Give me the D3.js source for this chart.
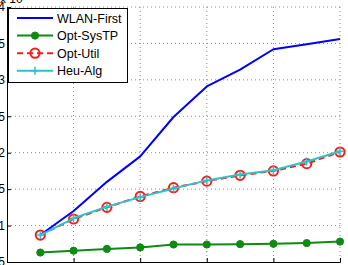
<!DOCTYPE html>
<html>
<head>
<meta charset="utf-8">
<script src="https://cdn.jsdelivr.net/npm/d3@7"></script>
<style>
	html, body { margin: 0; padding: 0; background: #fff; }
	svg { display: block; font-family: "Liberation Sans", Arial, sans-serif; }
</style>
</head>
<body>
<div id="chart"></div>
<script>
(function(){

// x positions (users / index), 1..10
var xVals = [1, 2, 3, 4, 5, 6, 7, 8, 9, 10];

var wlanFirst = [0.87, 1.20, 1.60, 1.95, 2.49, 2.91, 3.14, 3.42, 3.49, 3.56];
var optSysTP  = [0.63, 0.655, 0.68, 0.70, 0.74, 0.74, 0.745, 0.75, 0.76, 0.78];
var optUtil   = [0.87, 1.09, 1.25, 1.40, 1.52, 1.61, 1.69, 1.75, 1.85, 2.01];
var heuAlg    = [0.87, 1.10, 1.26, 1.39, 1.51, 1.62, 1.70, 1.76, 1.88, 2.02];

var yTicks = [0.5, 1, 1.5, 2, 2.5, 3, 3.5, 4];
var xTicks = [0, 2, 4, 6, 8, 10];

var seriesNames = ["WLAN-First", "Opt-SysTP", "Opt-Util", "Heu-Alg"];


var W = 348, H = 265;
var PLOT = { left: 7, right: 340, top: 7, bottom: 262 };

var x = d3.scaleLinear().domain([0, 10]).range([PLOT.left, PLOT.right]);
var y = d3.scaleLinear().domain([0.5, 4]).range([PLOT.bottom, PLOT.top]);

var svg = d3.select('#chart').append('svg')
	.attr('width', W)
	.attr('height', H);

// grid
var grid = svg.append('g').attr('class', 'grid');
grid.selectAll('line.hgrid')
	.data(yTicks.slice(1))
	.enter().append('line')
	.attr('class', 'hgrid')
	.attr('x1', PLOT.left).attr('x2', PLOT.right)
	.attr('y1', function(d) { return y(d); })
	.attr('y2', function(d) { return y(d); });
grid.selectAll('line.vgrid')
	.data(xTicks.slice(1))
	.enter().append('line')
	.attr('class', 'vgrid')
	.attr('x1', function(d) { return x(d); })
	.attr('x2', function(d) { return x(d); })
	.attr('y1', PLOT.top).attr('y2', PLOT.bottom);
grid.selectAll('line')
	.attr('stroke', '#8c8c8c')
	.attr('stroke-width', 1)
	.attr('stroke-dasharray', '1,3');

// axes (inward ticks like matlab)
var yAxis = d3.axisLeft(y)
	.tickValues(yTicks)
	.tickFormat(function(d) { return String(d); })
	.tickSize(-4)
	.tickPadding(2);
var xAxis = d3.axisBottom(x)
	.tickValues(xTicks)
	.tickSize(-4)
	.tickPadding(4);

var gy = svg.append('g')
	.attr('transform', 'translate(' + PLOT.left + ',0)')
	.call(yAxis);
var gx = svg.append('g')
	.attr('transform', 'translate(0,' + PLOT.bottom + ')')
	.call(xAxis);

[gy, gx].forEach(function(g) {
	g.select('.domain').attr('stroke', '#000').attr('stroke-width', 1);
	g.selectAll('.tick line').attr('stroke', '#000');
	g.selectAll('.tick text')
		.attr('fill', '#000')
		.style('font-size', '12px')
		.style('font-family', '"Liberation Sans", Arial, sans-serif');
});

// exponent label
var expo = svg.append('text')
	.attr('x', 0)
	.attr('y', 3)
	.attr('fill', '#000')
	.style('font-size', '12px')
	.text('x 10');
expo.append('tspan')
	.attr('dy', -6)
	.style('font-size', '9px')
	.text('4');


var line = d3.line()
	.x(function(d, i) { return x(xVals[i]); })
	.y(function(d) { return y(d); });

var STYLES = [
	{ data: wlanFirst, color: '#0000ff', width: 2, dash: null, marker: null },
	{ data: optSysTP,  color: '#0f8a12', width: 2, dash: null, marker: 'dot' },
	{ data: optUtil,   color: '#ff1a1a', width: 2, dash: '6,4', marker: 'circle' },
	{ data: heuAlg,    color: '#2cc4c8', width: 2, dash: null, marker: 'plus' }
];

function drawMarker(g, kind, color, cx, cy) {
	if(kind === 'dot') {
		g.append('circle')
			.attr('cx', cx).attr('cy', cy).attr('r', 3.6)
			.attr('fill', color).attr('stroke', color).attr('stroke-width', 1);
	} else if(kind === 'circle') {
		g.append('circle')
			.attr('cx', cx).attr('cy', cy).attr('r', 4.6)
			.attr('fill', 'none').attr('stroke', color).attr('stroke-width', 2);
	} else if(kind === 'plus') {
		g.append('path')
			.attr('d', 'M' + (cx - 4) + ' ' + cy + 'L' + (cx + 4) + ' ' + cy +
				'M' + cx + ' ' + (cy - 4) + 'L' + cx + ' ' + (cy + 4))
			.attr('stroke', color).attr('stroke-width', 1.5);
	}
}

STYLES.forEach(function(s) {
	var g = svg.append('g');
	g.append('path')
		.datum(s.data)
		.attr('d', line)
		.attr('fill', 'none')
		.attr('stroke', s.color)
		.attr('stroke-width', s.width)
		.attr('stroke-dasharray', s.dash)
		.attr('stroke-linejoin', 'round');
	if(s.marker) {
		s.data.forEach(function(v, i) {
			drawMarker(g, s.marker, s.color, x(xVals[i]), y(v));
		});
	}
});

// legend
var LEG = { x: 8, y: 8, w: 119, h: 74, rowH: 17.6, first: 18 };
var leg = svg.append('g');
leg.append('rect')
	.attr('x', LEG.x + 0.5).attr('y', LEG.y + 0.5)
	.attr('width', LEG.w).attr('height', LEG.h)
	.attr('fill', '#fff')
	.attr('stroke', '#000')
	.attr('stroke-width', 1);

seriesNames.forEach(function(name, i) {
	var s = STYLES[i];
	var ry = LEG.first + i * LEG.rowH;
	leg.append('line')
		.attr('x1', 17).attr('x2', 53)
		.attr('y1', ry).attr('y2', ry)
		.attr('stroke', s.color)
		.attr('stroke-width', s.width)
		.attr('stroke-dasharray', s.dash);
	if(s.marker) drawMarker(leg, s.marker, s.color, 35, ry);
	leg.append('text')
		.attr('x', 57)
		.attr('y', ry + 4.5)
		.attr('fill', '#000')
		.style('font-size', '12.5px')
		.text(name);
});

})();
</script>
</body>
</html>
